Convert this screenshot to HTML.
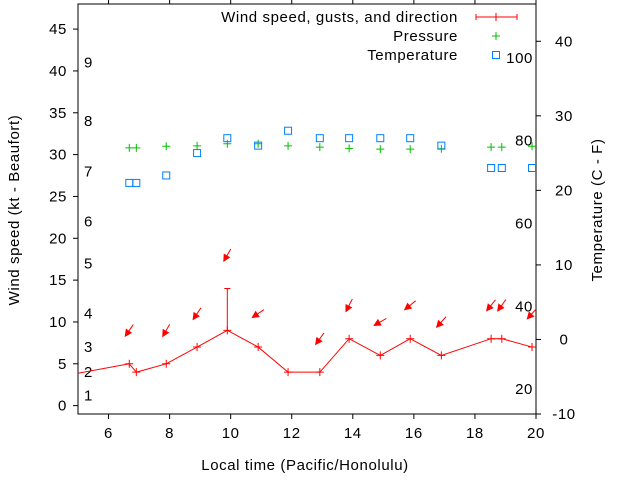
<!DOCTYPE html>
<html><head><meta charset="utf-8"><style>
body{margin:0;background:#fff}
svg{display:block}
text{font-family:"Liberation Sans",sans-serif;font-size:15px;letter-spacing:0.6px;fill:#000}
</style></head><body>
<svg id="chart" width="640" height="480" xmlns="http://www.w3.org/2000/svg"></svg>
<script>
const hours=[6.68,6.91,7.89,8.9,9.89,10.9,11.88,12.92,13.88,14.9,15.88,16.9,18.53,18.88,19.87];
const windSpeed=[5,4,5,7,9,7,4,4,8,6,8,6,8,8,7];
const windGust=[null,null,null,null,14,null,null,null,null,null,null,null,null,null,null];
const windDir=[35,null,30,34,30,56,null,36,27,60,51,42,39,36,42];
const pressure=[30.8,30.8,31.0,31.05,31.3,31.3,31.05,30.9,30.75,30.65,30.65,30.7,30.9,30.9,31.0];
const temperature=[21,21,22,25,27,26,28,27,27,27,27,26,23,23,23];
const prevPoint={h:4.6,v:3.6};
const xTicks=[6,8,10,12,14,16,18,20];
const yTicks=[0,5,10,15,20,25,30,35,40,45];
const y2Ticks=[-10,0,10,20,30,40];
const beaufortLabels=[[1,1.2],[2,4],[3,7],[4,11],[5,17],[6,22],[7,28],[8,34],[9,41]];
const fahrenheitLabels=[20,40,60,80,100];

const L=78,R=536,T=4,B=414;
const x=h=>L+(h-5)/(20-5)*(R-L);
const y=v=>B-(v+1)/(48+1)*(B-T);
const y2=v=>B-(v+10)/(45+10)*(B-T);
const svg=document.getElementById('chart');
const NS='http://www.w3.org/2000/svg';
function mk(tag,attrs,parent){const e=document.createElementNS(NS,tag);for(const k in attrs)e.setAttribute(k,attrs[k]);(parent||svg).appendChild(e);return e;}
function txt(s,attrs){const e=mk('text',attrs);e.textContent=s;return e;}

const frame=mk('rect',{x:L,y:T,width:R-L,height:B-T,fill:'none',stroke:'#000','stroke-width':1});


xTicks.forEach(h=>{
  const t=mk('path',{d:`M${x(h)},${B}v5M${x(h)},${T}v-5`,stroke:'#000'});
  
  
  const l=txt(String(h),{x:x(h),y:B+24,'text-anchor':'middle'});
  
  
});
yTicks.forEach(v=>{
  const t=mk('path',{d:`M${L},${y(v)}h-5`,stroke:'#000'});
  
  
  const l=txt(String(v),{x:L-11,y:y(v)+5,'text-anchor':'end'});
  
  
});
y2Ticks.forEach(v=>{
  const t=mk('path',{d:`M${R},${y2(v)}h5`,stroke:'#000'});
  
  
  const l=txt(String(v),{x:R+28,y:y2(v)+5,'text-anchor':'middle'});
  
  
});
beaufortLabels.forEach(([n,v])=>{
  const l=txt(String(n),{x:84,y:y(v)+5});
  
  
});
fahrenheitLabels.forEach(f=>{
  const c=(f-32)*5/9;
  const l=txt(String(f),{x:533,y:y2(c)+5,'text-anchor':'end'});
  
  
});
let t1=txt('Wind speed (kt - Beaufort)',{x:0,y:0,'text-anchor':'middle',transform:`translate(19,210) rotate(-90)`});


let t2=txt('Temperature (C - F)',{x:0,y:0,'text-anchor':'middle',transform:`translate(602,210) rotate(-90)`});


let t3=txt('Local time (Pacific/Honolulu)',{x:305,y:470,'text-anchor':'middle'});



const defs=mk('defs',{});
const cp=mk('clipPath',{id:'clip'},defs);
mk('rect',{x:L,y:T,width:R-L,height:B-T},cp);
const g=mk('g',{'clip-path':'url(#clip)'});



let pts=[[x(prevPoint.h),y(prevPoint.v)]].concat(hours.map((h,i)=>[x(h),y(windSpeed[i])]));
const line=mk('polyline',{points:pts.map(p=>p.join(',')).join(' '),fill:'none',stroke:'#f00','stroke-width':1},g);


hours.forEach((h,i)=>{
  const px=x(h),py=y(windSpeed[i]);
  const m=mk('path',{d:`M${px-4},${py}h8M${px},${py-4}v8`,stroke:'#f00'},g);
  
  
  if(windGust[i]!=null){
    const gy=y(windGust[i]);
    const e=mk('path',{d:`M${px},${py}V${gy}M${px-3},${gy}h6`,stroke:'#f00'},g);
    
    
  }
  if(windDir[i]!=null){
    const top=windGust[i]!=null?windGust[i]:windSpeed[i];
    const cx=px,cy=y(top+4);
    const a=windDir[i]*Math.PI/180,len=14;
    const dx=Math.sin(a)*len/2,dy=-Math.cos(a)*len/2;
    const hx=cx-dx,hy=cy-dy,tx=cx+dx,ty=cy+dy;
    const ux=-dx/(len/2),uy=-dy/(len/2);
    const bx=hx-ux*6,by=hy-uy*6;
    const ar=mk('g',{},g);
    
    
    mk('line',{x1:tx,y1:ty,x2:hx,y2:hy,stroke:'#f00'},ar);
    mk('polygon',{points:`${hx},${hy} ${bx-uy*3},${by+ux*3} ${bx+uy*3},${by-ux*3}`,fill:'#f00',stroke:'#f00'},ar);
  }
});
hours.forEach((h,i)=>{
  const px=x(h),py=y(pressure[i]);
  const m=mk('path',{d:`M${px-4},${py}h8M${px},${py-4}v8`,stroke:'#00c000'},g);
  
  
});
hours.forEach((h,i)=>{
  const px=x(h),py=y2(temperature[i]);
  const m=mk('rect',{x:px-3.5,y:py-3.5,width:7,height:7,fill:'none',stroke:'#0080ff'},g);
  
  
});

const lg=mk('g',{});


const names=['Wind speed, gusts, and direction','Pressure','Temperature'];
names.forEach((n,i)=>{
  const ly=17+i*19;
  const l=txt(n,{x:458,y:ly+5,'text-anchor':'end'});
  
  
  lg.appendChild(l);
});
mk('path',{d:`M476,17h41M476,14v6M517,14v6M496,13v8`,stroke:'#f00'},lg);
mk('path',{d:`M492,36h8M496,32v8`,stroke:'#00c000'},lg);
mk('rect',{x:492.5,y:51.5,width:7,height:7,fill:'none',stroke:'#0080ff'},lg);
</script>
</body></html>
